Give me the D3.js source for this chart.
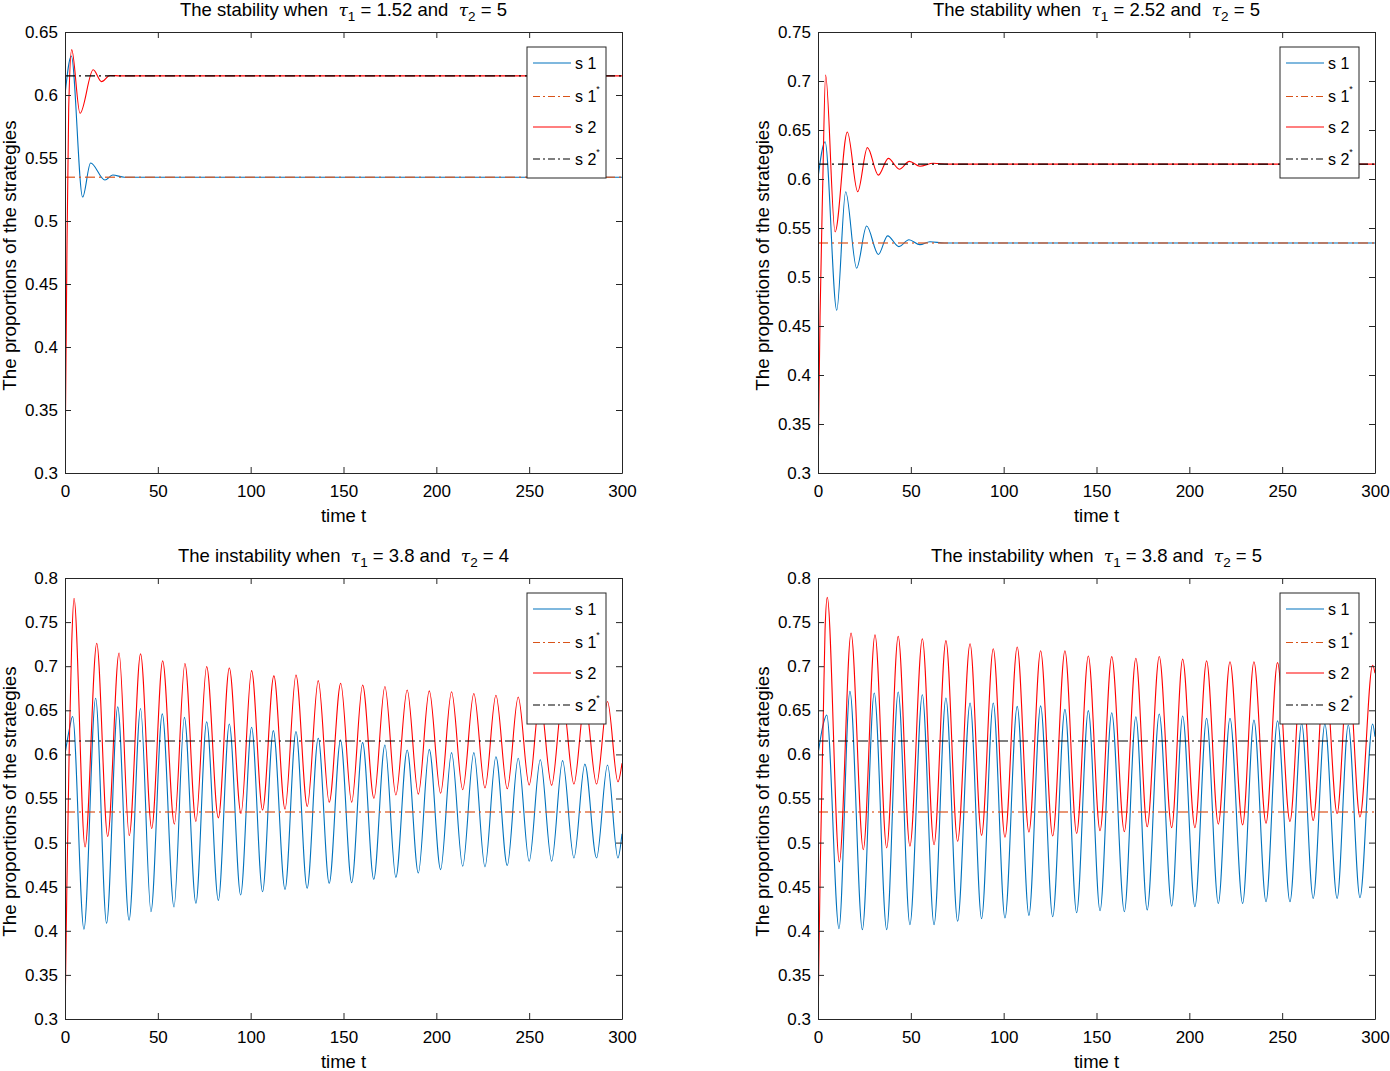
<!DOCTYPE html>
<html><head><meta charset="utf-8">
<script src="https://cdn.jsdelivr.net/npm/d3@7"></script>
<style>
body{margin:0;background:#fff}
text{font-family:"Liberation Sans",Arial,Helvetica,sans-serif;}
</style>
</head><body>
<svg id="c" width="1390" height="1071"></svg>
<script>
// ---------------- DATA ----------------
const xTicks = [0, 50, 100, 150, 200, 250, 300];
const xTickLabels = ["0", "50", "100", "150", "200", "250", "300"];
const yTicksTop1 = [0.3, 0.35, 0.4, 0.45, 0.5, 0.55, 0.6, 0.65];
const yTickLabelsTop1 = ["0.3", "0.35", "0.4", "0.45", "0.5", "0.55", "0.6", "0.65"];
const yTicksTop2 = [0.3, 0.35, 0.4, 0.45, 0.5, 0.55, 0.6, 0.65, 0.7, 0.75];
const yTickLabelsTop2 = ["0.3", "0.35", "0.4", "0.45", "0.5", "0.55", "0.6", "0.65", "0.7", "0.75"];
const yTicksBottom = [0.3, 0.35, 0.4, 0.45, 0.5, 0.55, 0.6, 0.65, 0.7, 0.75, 0.8];
const yTickLabelsBottom = ["0.3", "0.35", "0.4", "0.45", "0.5", "0.55", "0.6", "0.65", "0.7", "0.75", "0.8"];

const titlePrefixes = ["The stability when", "The stability when", "The instability when", "The instability when"];
const tau1Values = ["1.52", "2.52", "3.8", "3.8"];
const tau2Values = ["5", "5", "4", "5"];
const legendLabels = ["s 1", "s 1", "s 2", "s 2"];
const legendStars = [false, true, false, true];

// equilibria
const s1Star = 0.5347;
const s2Star = 0.6152;

// Panel 1 (tau1 = 1.52, tau2 = 5)
const p1S1T = [0, 3.4, 9.5, 13.8, 21.5, 25.7, 32, 300];
const p1S1V = [0.600, 0.631, 0.519, 0.546, 0.5325, 0.5365, 0.5347, 0.5347];
const p1S2T = [0, 1.0, 2.0, 3.6, 8.1, 15.2, 19.7, 24.2, 30, 300];
const p1S2V = [0.300, 0.470, 0.590, 0.636, 0.5855, 0.620, 0.6106, 0.6155, 0.6152, 0.6152];

// Panel 2 (tau1 = 2.52, tau2 = 5)
const p2S1T = [0, 3.8, 10.1, 14.9, 20.8, 26.2, 32.5, 37.5, 43.6, 49, 54.9, 60.3, 68, 300];
const p2S1V = [0.601, 0.638, 0.466, 0.587, 0.509, 0.552, 0.523, 0.542, 0.531, 0.538, 0.533, 0.536, 0.5347, 0.5347];
const p2S2T = [0, 1.1, 2.5, 4.1, 9.2, 15.8, 21.4, 26.6, 32.5, 37.9, 43.8, 49.2, 54.9, 62.1, 70, 300];
const p2S2V = [0.300, 0.460, 0.590, 0.706, 0.546, 0.648, 0.587, 0.632, 0.604, 0.621, 0.610, 0.618, 0.613, 0.616, 0.6152, 0.6152];

// Panel 3 (tau1 = 3.8, tau2 = 4)
const p3S1T = [0, 2.3, 4.1, 10.2, 16.5, 22.4, 28.4, 34.5, 40.7, 46.3, 52.4, 58.7, 64.3, 70.5, 76.3, 82.6, 88.5, 94.6,
  100.5, 106.4, 112.2, 118.5, 124.4, 130.4, 136.4, 142.3, 148.4, 154.4, 160.3, 166.3, 172.3, 178.2, 184.3, 190.3,
  196.2, 202.3, 208.2, 214.2, 220.2, 226.2, 232.1, 238.2, 244.1, 250, 256, 262.1, 268, 274.1, 280, 286.3, 292.2, 297.8, 300];
const p3S1V = [0.600, 0.628, 0.643, 0.4017, 0.6636, 0.4085, 0.654, 0.412, 0.652, 0.4217, 0.646, 0.427, 0.642, 0.4312,
  0.637, 0.4345, 0.6345, 0.4406, 0.6307, 0.4443, 0.627, 0.447, 0.626, 0.4482, 0.6183, 0.4539, 0.6163, 0.4546, 0.6133,
  0.4584, 0.6107, 0.4607, 0.605, 0.4655, 0.6057, 0.4694, 0.602, 0.4732, 0.602, 0.4725, 0.5974, 0.474, 0.5956, 0.4788,
  0.594, 0.4788, 0.5929, 0.4826, 0.589, 0.4826, 0.588, 0.4826, 0.510];
const p3S2T = [0, 1.0, 2.3, 3.6, 4.85, 10.8, 17.1, 23, 29.1, 34.6, 40.7, 46.7, 52.6, 58.9, 64.6, 70.5, 76.3, 82.6, 88.5,
  94.8, 100.5, 106.4, 112.5, 118.5, 124.4, 130.5, 136.4, 142.3, 148.5, 154.4, 160.3, 166.4, 172.3, 178.2, 184.3, 190.3,
  196.2, 202.3, 208.2, 214.2, 220.2, 226.2, 232.1, 238.2, 244.1, 250.0, 255.8, 262.1, 268, 274.1, 280, 286.3, 292.2, 297.8, 300];
const p3S2V = [0.300, 0.450, 0.610, 0.725, 0.777, 0.495, 0.726, 0.507, 0.715, 0.508, 0.714, 0.516, 0.706, 0.521, 0.703,
  0.524, 0.6995, 0.528, 0.698, 0.533, 0.695, 0.537, 0.689, 0.538, 0.690, 0.541, 0.6836, 0.5457, 0.6806, 0.5457, 0.6787,
  0.5503, 0.677, 0.554, 0.673, 0.555, 0.672, 0.556, 0.671, 0.560, 0.669, 0.562, 0.667, 0.561, 0.665, 0.5653, 0.663,
  0.565, 0.662, 0.5664, 0.661, 0.5664, 0.660, 0.569, 0.590];

// Panel 4 (tau1 = 3.8, tau2 = 5)
const p4S1T = [0, 2.9, 4.7, 11.3, 17.2, 23.9, 30.3, 37, 43.2, 49.5, 56.2, 62.5, 68.9, 75.2, 81.9, 88.1, 94.4, 100.7,
  107.3, 113.6, 119.9, 126.4, 133, 139.3, 145.6, 151.9, 158.2, 165, 171.2, 177.3, 183.8, 190.5, 196.4, 203, 209.3,
  215.6, 221.9, 228.7, 234.8, 241.3, 247.5, 254.2, 260.5, 266.7, 273, 279.6, 285.6, 291.9, 298.7, 300];
const p4S1V = [0.600, 0.635, 0.6447, 0.4024, 0.6715, 0.4013, 0.6696, 0.4013, 0.6707, 0.407, 0.6677, 0.407, 0.664, 0.4108,
  0.6583, 0.4137, 0.6583, 0.4145, 0.6545, 0.4175, 0.655, 0.416, 0.651, 0.4205, 0.6496, 0.4228, 0.6473, 0.4217, 0.6427,
  0.4236, 0.6458, 0.428, 0.6435, 0.4273, 0.641, 0.431, 0.641, 0.431, 0.639, 0.433, 0.6382, 0.433, 0.635, 0.4368, 0.6345,
  0.4368, 0.6333, 0.4375, 0.6345, 0.620];
const p4S2T = [0, 1.2, 2.9, 3.8, 5.0, 11.5, 17.8, 24.4, 30.7, 37.0, 43.2, 49.5, 56.2, 62.5, 68.9, 75.2, 81.9, 88.1, 94.4,
  100.7, 107.3, 113.6, 119.9, 126.4, 133, 139.3, 145.6, 151.9, 158.2, 165, 171.2, 177.3, 183.8, 190.5, 196.4, 203, 209.3,
  215.6, 221.9, 228.7, 234.8, 241.3, 247.5, 254.2, 260.5, 266.7, 273, 279.6, 285.6, 291.9, 298.7, 300];
const p4S2V = [0.300, 0.470, 0.649, 0.741, 0.778, 0.478, 0.7376, 0.492, 0.7357, 0.494, 0.734, 0.496, 0.7312, 0.4976,
  0.729, 0.5015, 0.7255, 0.5083, 0.7198, 0.506, 0.7218, 0.512, 0.7176, 0.5075, 0.7176, 0.5105, 0.7116, 0.5135, 0.7108,
  0.5124, 0.709, 0.518, 0.711, 0.517, 0.708, 0.517, 0.706, 0.521, 0.705, 0.520, 0.705, 0.522, 0.704, 0.524, 0.703,
  0.525, 0.702, 0.533, 0.702, 0.529, 0.701, 0.692];

// ---------------- LAYOUT / STYLE ----------------
const svg = d3.select("#c");
const axisColor = "#262626";
const colS1 = "#0072BD", colS1s = "#D95319", colS2 = "#FF0000", colS2s = "#000000";
const dashDot = "10,4,2,4";

const panels = [
  {box: [65, 622, 32, 473], yMax: 0.65, yT: yTicksTop1, yL: yTickLabelsTop1, s1: [p1S1T, p1S1V], s2: [p1S2T, p1S2V]},
  {box: [818, 1375, 32, 473], yMax: 0.75, yT: yTicksTop2, yL: yTickLabelsTop2, s1: [p2S1T, p2S1V], s2: [p2S2T, p2S2V]},
  {box: [65, 622, 578, 1019], yMax: 0.8, yT: yTicksBottom, yL: yTickLabelsBottom, s1: [p3S1T, p3S1V], s2: [p3S2T, p3S2V]},
  {box: [818, 1375, 578, 1019], yMax: 0.8, yT: yTicksBottom, yL: yTickLabelsBottom, s1: [p4S1T, p4S1V], s2: [p4S2T, p4S2V]}
];

panels.forEach((p, i) => {
  const [l, r, t, b] = p.box;
  const x = d3.scaleLinear().domain([0, 300]).range([l, r]);
  const y = d3.scaleLinear().domain([0.3, p.yMax]).range([b, t]);
  const g = svg.append("g");

  const clipId = "clip" + i;
  svg.append("clipPath").attr("id", clipId).append("rect")
    .attr("x", l).attr("y", t).attr("width", r - l).attr("height", b - t);

  const plot = g.append("g").attr("clip-path", `url(#${clipId})`);
  const line = d3.line().x(d => x(d[0])).y(d => y(d[1])).curve(d3.curveMonotoneX);
  const zip = (T, V) => T.map((tt, k) => [tt, V[k]]);

  // s1
  plot.append("path").attr("d", line(zip(p.s1[0], p.s1[1])))
    .attr("fill", "none").attr("stroke", colS1).attr("stroke-width", 1.1);
  // s1*
  plot.append("path").attr("d", line([[0, s1Star], [300, s1Star]]))
    .attr("fill", "none").attr("stroke", colS1s).attr("stroke-opacity", 0.8).attr("stroke-width", 1.5).attr("stroke-dasharray", dashDot);
  // s2
  plot.append("path").attr("d", line(zip(p.s2[0], p.s2[1])))
    .attr("fill", "none").attr("stroke", colS2).attr("stroke-width", 1.1);
  // s2*
  plot.append("path").attr("d", line([[0, s2Star], [300, s2Star]]))
    .attr("fill", "none").attr("stroke", colS2s).attr("stroke-width", 1.1).attr("stroke-dasharray", dashDot);

  // axes
  const styleAxis = sel => {
    sel.selectAll(".domain").attr("stroke", axisColor).attr("stroke-width", 1);
    sel.selectAll(".tick line").attr("stroke", axisColor).attr("stroke-width", 1);
    sel.selectAll("text").attr("fill", "#000").style("font-size", "17px")
      .style("font-family", '"Liberation Sans", Arial, sans-serif');
  };
  g.append("g").attr("transform", `translate(0,${b})`)
    .call(d3.axisBottom(x).tickValues(xTicks).tickFormat((d, k) => xTickLabels[k]).tickSizeInner(-6).tickSizeOuter(0).tickPadding(12))
    .call(styleAxis);
  g.append("g").attr("transform", `translate(0,${t})`)
    .call(d3.axisTop(x).tickValues(xTicks).tickFormat("").tickSizeInner(-6).tickSizeOuter(0))
    .call(styleAxis);
  g.append("g").attr("transform", `translate(${l},0)`)
    .call(d3.axisLeft(y).tickValues(p.yT).tickFormat((d, k) => p.yL[k]).tickSizeInner(-6).tickSizeOuter(0).tickPadding(7))
    .call(styleAxis);
  g.append("g").attr("transform", `translate(${r},0)`)
    .call(d3.axisRight(y).tickValues(p.yT).tickFormat("").tickSizeInner(-6).tickSizeOuter(0))
    .call(styleAxis);
  g.selectAll(".domain").attr("fill", "none");

  const cx = (l + r) / 2, cy = (t + b) / 2;
  // x label
  g.append("text").attr("x", cx).attr("y", b + 49).attr("text-anchor", "middle")
    .style("font-size", "18.5px").attr("fill", "#000").text("time t");
  // y label
  g.append("text").attr("transform", `translate(${l - 49},${cy + 3}) rotate(-90)`).attr("text-anchor", "middle")
    .style("font-size", "18.8px").attr("fill", "#000").text("The proportions of the strategies");

  // title
  const tt = g.append("text").attr("x", cx).attr("y", t - 16).attr("text-anchor", "middle")
    .style("font-size", "18.5px").style("white-space", "pre").attr("fill", "#000");
  tt.append("tspan").text(titlePrefixes[i] + "  ");
  tt.append("tspan").style("font-family", '"DejaVu Serif", serif').style("font-style", "italic").style("font-size", "17px").text("τ");
  tt.append("tspan").attr("dy", 5).style("font-size", "13.5px").text("1");
  tt.append("tspan").attr("dy", -5).text(" = " + tau1Values[i] + " and  ");
  tt.append("tspan").style("font-family", '"DejaVu Serif", serif').style("font-style", "italic").style("font-size", "17px").text("τ");
  tt.append("tspan").attr("dy", 5).style("font-size", "13.5px").text("2");
  tt.append("tspan").attr("dy", -5).text(" = " + tau2Values[i]);

  // legend
  const lw = 79, lh = 131;
  const lx = r - 16 - lw, ly = t + 15;
  const lg = g.append("g");
  lg.append("rect").attr("x", lx).attr("y", ly).attr("width", lw).attr("height", lh)
    .attr("fill", "#fff").attr("stroke", axisColor).attr("stroke-width", 1);
  const rowY = [16, 49.5, 80, 112];
  const cols = [colS1, colS1s, colS2, colS2s];
  const dashes = [null, dashDot, null, dashDot];
  legendLabels.forEach((lab, k) => {
    const yy = ly + rowY[k];
    const ln = lg.append("line").attr("x1", lx + 6).attr("x2", lx + 44).attr("y1", yy).attr("y2", yy)
      .attr("stroke", cols[k]).attr("stroke-width", 1.1);
    if (dashes[k]) ln.attr("stroke-dasharray", "7,3,2,3");
    const tx = lg.append("text").attr("x", lx + 48).attr("y", yy + 5.5)
      .style("font-size", "16px").attr("fill", "#000").text(lab);
    if (legendStars[k]) {
      tx.append("tspan").attr("dy", -10).style("font-size", "9px").text("*");
    }
  });
});
</script>
</body></html>
